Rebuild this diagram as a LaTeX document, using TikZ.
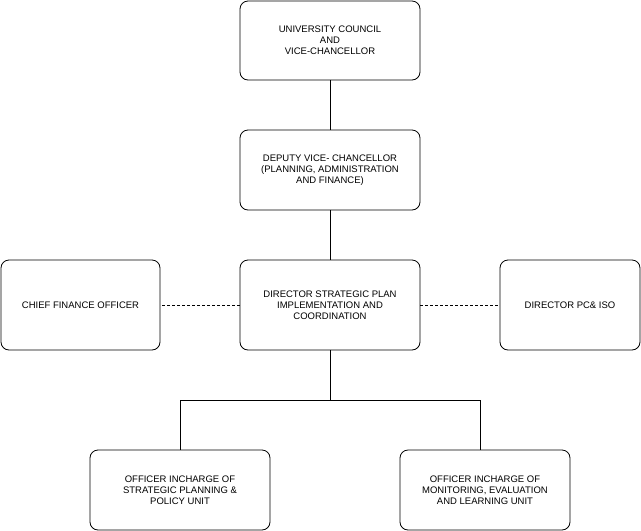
\documentclass[tikz,border=0pt]{standalone}
\usepackage{fontspec}
\setmainfont{Liberation Sans}
\usetikzlibrary{positioning}
\tikzset{
  box/.style={draw, rounded corners=8pt, thick, align=center, font=\fontsize{9.5}{11}\selectfont},
  link/.style={thick},
  side/.style={thick, dashed, dash pattern=on 2.5pt off 2.5pt}
}
\begin{document}
\begin{tikzpicture}[x=1pt,y=-1pt]
  \useasboundingbox (0,0) rectangle (641,531);

  \node(council) [box, minimum width=180pt, minimum height=79pt] at (330,40.5)
      {UNIVERSITY COUNCIL\\AND\\VICE-CHANCELLOR};
  \node(deputy) [box, minimum width=180pt, minimum height=80pt] at (330,170)
      {DEPUTY VICE- CHANCELLOR\\(PLANNING, ADMINISTRATION\\AND FINANCE)};
  \node(director) [box, minimum width=180pt, minimum height=90pt] at (330,305)
      {DIRECTOR STRATEGIC PLAN\\IMPLEMENTATION AND\\COORDINATION};
  \node(finance) [box, minimum width=159pt, minimum height=90pt] at (80.5,305)
      {CHIEF FINANCE OFFICER};
  \node(pciso) [box, minimum width=140pt, minimum height=90pt] at (570,305)
      {DIRECTOR PC\& ISO};
  \node(policy) [box, minimum width=180pt, minimum height=80pt] at (180,490)
      {OFFICER INCHARGE OF\\STRATEGIC PLANNING \&\\POLICY UNIT};
  \node(monitor) [box, minimum width=170pt, minimum height=80pt] at (485,490)
      {OFFICER INCHARGE OF\\MONITORING, EVALUATION\\AND LEARNING UNIT};

  \coordinate(split) at (330,400);

  \draw[link](council) -- (deputy);
  \draw[link](deputy) -- (director);
  \draw[side](director) -- (finance);
  \draw[side](director) -- (pciso);
  \draw[link](director) -- (split);
  \draw[link](split) -| (policy.north);
  \draw[link](split) -| ([xshift=-5pt]monitor.north);

\end{tikzpicture}
\end{document}
